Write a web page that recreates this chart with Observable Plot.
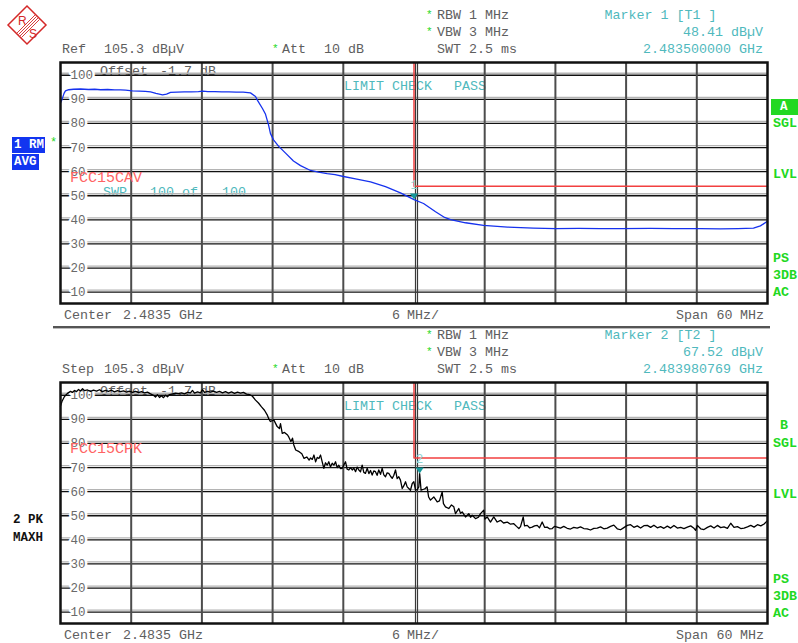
<!DOCTYPE html>
<html><head><meta charset="utf-8">
<script src="https://cdn.jsdelivr.net/npm/d3@7"></script>
<script src="https://cdn.jsdelivr.net/npm/@observablehq/plot@0.6"></script>
<style>
html,body{margin:0;padding:0;background:#fff;}
#root{position:relative;width:798px;height:643px;overflow:hidden;font-family:"Liberation Mono","DejaVu Sans Mono",monospace;}
.t{position:absolute;white-space:pre;line-height:1;font-size:13.33px;transform:translateY(-50%);}
.box{position:absolute;white-space:pre;font-weight:bold;color:#fff;font-size:12.5px;box-sizing:border-box;}
.plot{position:absolute;left:0;z-index:2;}
.top{z-index:3;}
</style></head><body><div id="root"></div>
<script>
// ---- data ----
const yTicks = [100, 90, 80, 70, 60, 50, 40, 30, 20, 10];
const xGrid = [2459.5, 2465.5, 2471.5, 2477.5, 2489.5, 2495.5, 2501.5, 2507.5];
const xCenter = [2483.5];
const xDomain = [2453.5, 2513.5];
const yDomain = [5.3, 105.3];

// Trace 1: RMS average (MHz, dBµV)
const avgFreq = [2453.50,2453.64,2453.80,2453.92,2454.20,2454.60,2455.20,2455.88,2456.40,2456.90,
  2457.50,2458.10,2458.60,2459.02,2459.60,2460.20,2460.70,2461.14,2461.60,2462.16,
  2462.50,2462.84,2463.40,2464.00,2464.60,2465.20,2465.60,2466.00,2466.60,2467.20,
  2467.80,2468.40,2469.00,2469.62,2470.05,2470.22,2470.64,2470.90,2471.15,2471.32,
  2471.58,2472.00,2472.60,2473.27,2473.87,2474.72,2475.40,2476.13,2476.80,2477.52,
  2478.54,2479.81,2481.08,2482.35,2483.50,2484.31,2485.33,2486.10,2486.60,2487.87,
  2489.40,2491.44,2493.64,2495.51,2497.50,2499.33,2501.00,2503.57,2505.50,2507.81,
  2509.50,2511.00,2512.31,2512.90,2513.50];
const avgLevel = [88.5,90.1,92.5,93.5,94.0,94.2,94.3,94.1,94.2,94.0,
  94.1,93.9,93.9,93.8,93.5,93.4,93.3,93.1,92.5,91.9,
  92.2,92.9,93.0,93.1,93.1,93.2,93.4,93.2,93.2,93.1,
  93.1,93.0,93.0,92.7,91.2,89.6,86.2,83.8,79.5,75.8,
  73.2,70.6,67.7,64.4,62.5,60.5,59.8,59.2,58.8,58.0,
  57.0,55.8,53.8,51.2,48.4,46.8,43.4,41.0,40.1,38.8,
  37.7,37.0,36.6,36.4,36.5,36.4,36.4,36.5,36.4,36.4,
  36.3,36.4,36.6,37.5,39.4];

// Trace 2: peak max hold (MHz, dBµV)
const peakFreq = [
  2453.50,2453.63,2453.84,2454.09,2454.35,2454.52,2454.69,2454.86,2455.03,2455.20,
  2455.37,2455.54,2455.79,2456.05,2456.30,2456.56,2456.81,2457.06,2457.32,2457.57,
  2457.83,2458.08,2458.34,2458.59,2458.85,2459.10,2459.36,2459.61,2459.87,2460.12,
  2460.37,2460.63,2460.88,2461.14,2461.39,2461.56,2461.73,2461.90,2462.07,2462.24,
  2462.41,2462.58,2462.75,2463.01,2463.26,2463.51,2463.77,2464.02,2464.28,2464.53,
  2464.70,2464.87,2465.13,2465.38,2465.55,2465.72,2465.98,2466.23,2466.48,2466.74,
  2466.99,2467.25,2467.50,2467.76,2468.01,2468.27,2468.52,2468.78,2469.03,2469.29,
  2469.54,2469.79,2470.05,2470.30,2470.56,2470.81,2471.04,2471.18,2471.32,2471.60,
  2471.89,2472.08,2472.17,2472.32,2472.51,2472.77,2472.88,2473.05,2473.19,2473.30,
  2473.46,2473.75,2473.98,2474.17,2474.40,2474.60,2474.72,2474.87,2475.01,2475.15,
  2475.29,2475.43,2475.57,2475.71,2475.85,2475.99,2476.13,2476.27,2476.41,2476.56,
  2476.70,2476.84,2476.98,2477.12,2477.26,2477.41,2477.54,2477.69,2477.83,2477.97,
  2478.11,2478.26,2478.39,2478.54,2478.68,2478.82,2478.96,2479.10,2479.24,2479.38,
  2479.53,2479.67,2479.81,2479.95,2480.09,2480.23,2480.37,2480.51,2480.66,2480.80,
  2480.94,2481.08,2481.22,2481.36,2481.51,2481.65,2481.79,2481.93,2482.07,2482.21,
  2482.35,2482.50,2482.64,2482.78,2482.92,2483.06,2483.20,2483.35,2483.49,2483.63,
  2483.77,2483.91,2483.98,2484.10,2484.31,2484.45,2484.61,2484.74,2484.90,2485.18,
  2485.47,2485.66,2485.89,2486.00,2486.17,2486.45,2486.68,2486.88,2487.02,2487.30,
  2487.45,2487.59,2487.87,2488.15,2488.30,2488.44,2488.72,2488.97,2489.14,2489.42,
  2489.52,2489.71,2489.99,2490.27,2490.56,2490.84,2491.10,2491.41,2491.69,2491.97,
  2492.20,2492.40,2492.54,2492.77,2492.88,2493.11,2493.31,2493.53,2493.73,2493.96,
  2494.15,2494.38,2494.58,2494.80,2495.00,2495.23,2495.42,2495.65,2495.93,2496.21,
  2496.50,2496.78,2497.06,2497.35,2497.63,2497.91,2498.20,2498.48,2498.76,2499.05,
  2499.33,2499.61,2499.90,2500.18,2500.46,2500.75,2501.03,2501.31,2501.60,2501.88,
  2502.16,2502.45,2502.73,2503.01,2503.30,2503.58,2503.86,2504.15,2504.43,2504.71,
  2505.00,2505.28,2505.56,2505.85,2506.13,2506.41,2506.70,2506.98,2507.26,2507.40,
  2507.55,2507.83,2508.11,2508.40,2508.68,2508.96,2509.25,2509.53,2509.81,2510.10,
  2510.38,2510.66,2510.95,2511.23,2511.51,2511.80,2512.08,2512.36,2512.65,2512.93,
  2513.21,2513.50];
const peakLevel = [
  95.5,97.5,99.5,100.8,101.6,101.2,102.0,101.5,102.4,101.8,
  102.7,101.9,102.2,101.6,102.1,101.7,102.3,101.5,102.0,101.6,
  102.1,101.4,101.9,101.5,101.8,101.3,101.7,101.2,101.6,101.1,
  101.5,101.0,101.3,100.6,100.0,99.3,100.2,99.1,99.8,99.0,
  100.0,99.4,100.3,100.6,100.9,100.7,101.0,100.6,101.2,101.0,
  102.0,100.9,101.4,101.0,102.3,101.2,101.6,101.3,101.7,101.2,
  101.6,101.0,101.5,100.9,101.4,100.8,101.3,100.9,101.2,100.5,
  100.3,99.6,98.0,96.8,95.2,93.8,91.9,90.2,89.1,89.8,
  87.0,86.2,88.2,84.2,84.6,83.5,82.6,80.8,82.2,79.4,
  77.3,76.6,75.7,73.8,74.4,73.1,74.0,73.4,75.2,72.4,
  74.2,73.8,75.2,72.4,69.7,72.0,71.0,72.4,70.3,71.8,
  71.0,72.4,70.0,71.0,69.6,69.7,71.0,72.4,69.3,69.0,
  70.0,69.0,69.8,68.3,70.2,69.0,68.2,71.0,68.0,67.6,
  69.7,67.5,68.8,66.9,68.6,68.3,66.8,69.0,67.2,69.7,
  67.0,66.2,67.8,67.6,66.4,65.5,66.8,69.0,65.4,66.2,
  64.8,61.3,62.5,64.1,62.0,61.3,60.6,63.4,64.1,60.6,
  60.8,62.0,67.52,60.6,61.0,61.3,62.0,57.8,56.5,57.8,
  55.8,56.2,59.9,55.0,53.7,53.0,54.5,53.7,50.9,53.0,
  51.0,51.6,49.5,50.9,49.4,50.2,48.8,49.4,50.9,52.3,
  48.6,49.5,47.4,49.5,47.4,48.1,47.0,47.4,46.5,46.7,
  45.6,44.7,45.5,49.5,45.8,46.0,45.0,45.3,45.8,46.0,
  45.0,47.4,45.2,45.3,44.6,44.7,45.6,45.3,44.9,45.6,
  44.8,44.5,45.2,44.9,45.4,44.7,44.6,44.1,44.8,44.9,
  45.4,44.6,44.9,45.6,46.1,44.6,44.2,45.1,46.0,46.3,
  45.2,45.8,44.9,45.9,46.0,45.2,46.1,45.0,45.5,44.8,
  45.7,44.9,46.0,44.9,45.2,44.7,45.3,45.8,44.8,44.0,
  46.0,44.6,44.3,45.2,45.8,44.9,46.0,45.1,45.4,44.8,
  46.9,45.2,45.5,44.7,44.9,45.4,46.0,45.3,46.3,45.8,
  46.6,48.0];

// Limit lines (FCC15CAV / FCC15CPK)
const limitFreq = [2483.5, 2483.5, 2513.5];
const limitAvgLevel = [105.3, 54, 54];
const limitPkLevel = [105.3, 74, 74];

// Markers
const marker1 = {f: 2483.5, v: 48.41};
const marker2 = {f: 2483.980769, v: 67.52};

// ---- drawing ----
const root = document.getElementById("root");
const GREY = "#5e5e5e", CYAN = "#4fb9bd", RED = "#ff6363", GREEN = "#22d822", BLUE = "#1235f0";
const MONO = "Liberation Mono, DejaVu Sans Mono, monospace";

function T(s, x, y, o = {}) {
  const d = document.createElement("div");
  d.className = "t" + (o.top ? " top" : ""); d.textContent = s;
  d.style.left = x + "px"; d.style.top = y + "px";
  d.style.color = o.c || GREY;
  if (o.size) d.style.fontSize = o.size + "px";
  if (o.bold) d.style.fontWeight = "bold";
  if (o.end) d.style.transform = "translate(-100%,-50%)";
  root.appendChild(d);
}
function B(s, x, y, w, h, bg, pad) {
  const d = document.createElement("div");
  d.className = "box"; d.textContent = s;
  Object.assign(d.style, {left: x + "px", top: y + "px", width: w + "px", height: h + "px",
    lineHeight: h + "px", background: bg, paddingLeft: (pad || 2) + "px"});
  root.appendChild(d);
}
function H(x, y, w, c, th) {
  const d = document.createElement("div");
  Object.assign(d.style, {position: "absolute", left: x + "px", top: y + "px", width: w + "px", height: th + "px", background: c});
  root.appendChild(d);
}

// logo
root.insertAdjacentHTML("beforeend", `<svg style="position:absolute;left:0;top:0" width="56" height="50">
 <polygon points="8,25 27,6 46,25 27,44" fill="none" stroke="#d42828" stroke-width="1.5"/>
 <g stroke="#d42828" stroke-width="0.9">
  <line x1="17" y1="33" x2="35" y2="15"/><line x1="18.5" y1="34.5" x2="36.5" y2="16.5"/>
  <line x1="20" y1="36" x2="38" y2="18"/><line x1="21.5" y1="37.5" x2="39.5" y2="19.5"/>
 </g>
 <text x="18" y="25" font-family="Liberation Sans, Arial" font-size="12" fill="#d42828">R</text>
 <text x="29" y="38" font-family="Liberation Sans, Arial" font-size="12" fill="#d42828">S</text>
</svg>`);

function header(dy, mk) {
  T("*", 426, 15 + dy, {c: GREEN, size: 11}); T("RBW 1 MHz", 437, 16 + dy);
  T("*", 426, 32 + dy, {c: GREEN, size: 11}); T("VBW 3 MHz", 437, 33 + dy);
  T("SWT 2.5 ms", 437, 50 + dy);
  T("*", 272, 49 + dy, {c: GREEN, size: 11}); T("Att", 282, 50 + dy); T("10 dB", 324, 50 + dy);
  T(mk[0], 604.5, 16 + dy, {c: CYAN});
  T(mk[1], 763, 33 + dy, {c: CYAN, end: true});
  T(mk[2], 763, 50 + dy, {c: CYAN, end: true});
  T("Offset", 100, 72 + dy); T("-1.7 dB", 160, 72 + dy);
  T("LIMIT CHECK", 344, 87 + dy, {c: CYAN}); T("PASS", 454, 87 + dy, {c: CYAN});
}
header(0, ["Marker 1 [T1 ]", "48.41 dBµV", "2.483500000 GHz"]);
header(320, ["Marker 2 [T2 ]", "67.52 dBµV", "2.483980769 GHz"]);
T("Ref", 62, 50); T("105.3 dBµV", 104, 50);
T("Step", 62, 370); T("105.3 dBµV", 104, 370);

function footer(y) {
  T("Center", 64, y); T("2.4835 GHz", 123, y);
  T("6", 392, y); T("MHz/", 407, y);
  T("Span", 676, y); T("60", 716.5, y); T("MHz", 740, y);
}
footer(315.5); footer(636);
H(53, 326, 717, "#555", 1.5);
H(53, 327.5, 717, "#bbb", 1);

T("FCC15CAV", 70, 177.5, {c: RED, size: 15, top: true});
T("SWP", 103, 192.5, {c: CYAN}); T("100 of", 150, 192.5, {c: CYAN}); T("100", 222, 192.5, {c: CYAN});
T("FCC15CPK", 70, 449, {c: RED, size: 15, top: true});

B("1 RM", 12, 137, 33, 16, BLUE, 2);
B("AVG", 12, 154, 27, 16, BLUE, 2);
T("*", 50, 143, {c: GREEN, size: 12});
T("2 PK", 13, 520, {c: "#111", bold: true, size: 12.5});
T("MAXH", 13, 538, {c: "#111", bold: true, size: 12.5});

B("A", 771, 99, 27, 16, GREEN, 9);
T("SGL", 773, 123.5, {c: GREEN, bold: true});
T("LVL", 773, 174.5, {c: GREEN, bold: true});
T("PS", 773, 258.5, {c: GREEN, bold: true});
T("3DB", 773, 275.5, {c: GREEN, bold: true});
T("AC", 773, 292.5, {c: GREEN, bold: true});
T("B", 780, 426, {c: GREEN, bold: true});
T("SGL", 773, 443.5, {c: GREEN, bold: true});
T("LVL", 773, 494.5, {c: GREEN, bold: true});
T("PS", 773, 579.5, {c: GREEN, bold: true});
T("3DB", 773, 596.5, {c: GREEN, bold: true});
T("AC", 773, 613.5, {c: GREEN, bold: true});

const downTri = {draw(ctx) { ctx.moveTo(-4, -6); ctx.lineTo(4, -6); ctx.lineTo(0, 0); ctx.closePath(); }};

function panel(freq, level, color, limitLevel, marker, label, top, height) {
  const trace = freq.map((f, i) => ({f, v: level[i]}));
  const limit = limitFreq.map((f, i) => ({f, v: limitLevel[i]}));
  const svg = Plot.plot({
    width: 798, height,
    marginLeft: 60, marginRight: 31, marginTop: 62, marginBottom: height - 303,
    x: {domain: xDomain, axis: null},
    y: {domain: yDomain, axis: null},
    style: {background: "transparent", overflow: "visible"},
    marks: [
      Plot.ruleY(yTicks, {stroke: "#b4b4b4", strokeWidth: 1.3, dy: -2}),
      Plot.ruleY(yTicks, {stroke: "#111", strokeWidth: 1.3}),
      Plot.ruleX(xGrid, {stroke: "#4c4c4c", strokeWidth: 2}),
      Plot.ruleX(xCenter, {stroke: "#3a3a3a", strokeWidth: 1.2, dx: 1.5}),
      Plot.ruleX(xCenter, {stroke: "#3a3a3a", strokeWidth: 1.2, dx: 3.5}),
      Plot.text(yTicks, {x: () => xDomain[0], y: d => d, text: d => String(d), dx: 10, textAnchor: "start",
        fill: "white", stroke: "white", strokeWidth: 5, fontSize: 12.5, fontFamily: MONO}),
      Plot.text(yTicks, {x: () => xDomain[0], y: d => d, text: d => String(d), dx: 10, textAnchor: "start",
        fill: "#6a6a6a", fontSize: 12.5, fontFamily: MONO}),
      Plot.line(limit, {x: "f", y: "v", stroke: "#f24040", strokeWidth: 1.5}),
      Plot.line(trace, {x: "f", y: "v", stroke: color, strokeWidth: 1.3}),
      Plot.dot([marker], {x: "f", y: "v", symbol: downTri, fill: "#15979a", stroke: "none"}),
      Plot.text([marker], {x: "f", y: "v", text: () => label, dy: -14, fill: "#8fd3d3", fontSize: 12, fontFamily: MONO}),
      Plot.frame({stroke: "#111", strokeWidth: 2.5})
    ]
  });
  svg.classList.add("plot");
  svg.style.top = top + "px";
  root.appendChild(svg);
}
panel(avgFreq, avgLevel, "#1632ee", limitAvgLevel, marker1, "1", 0, 310);
panel(peakFreq, peakLevel, "#000", limitPkLevel, marker2, "2", 320, 323);
</script></body></html>
